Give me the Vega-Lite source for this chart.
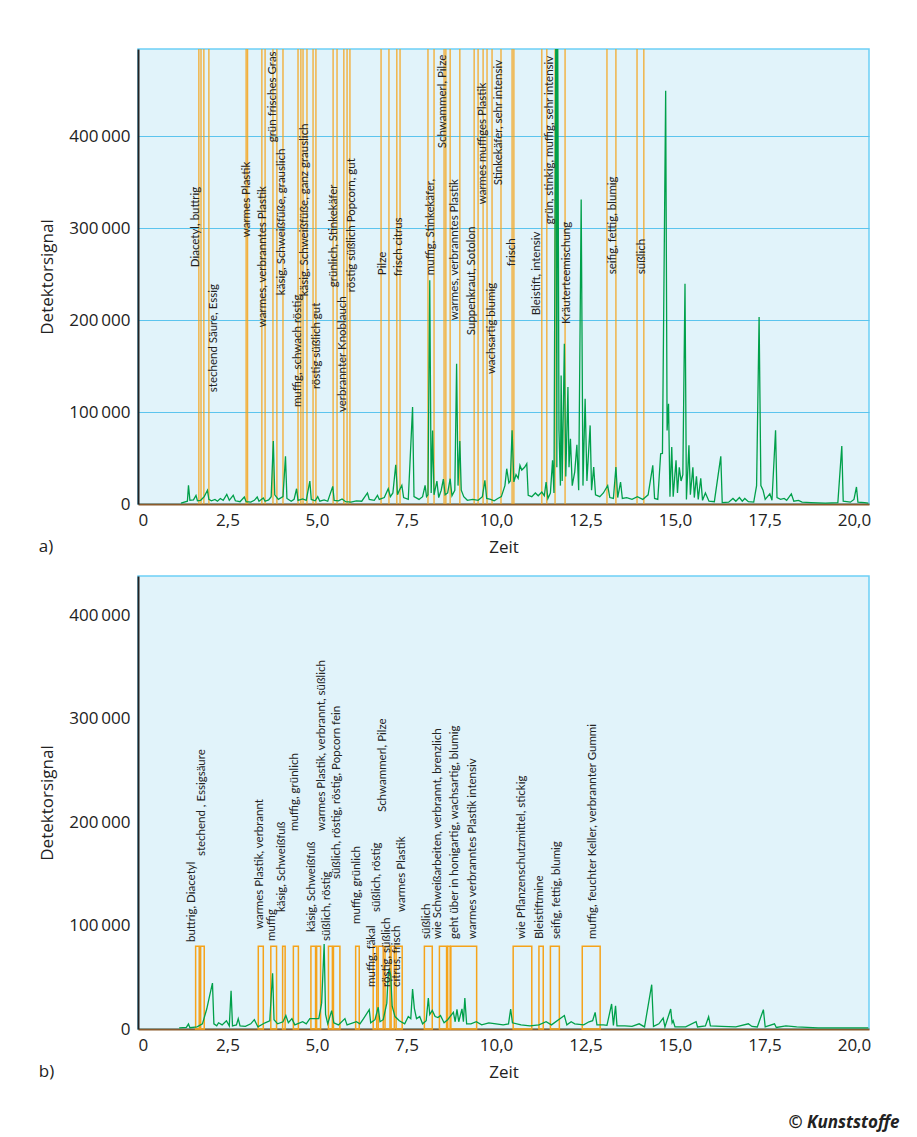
{
"$schema": "https://vega.github.io/schema/vega-lite/v6.json",
"background": "white",
"padding": {"left": 38, "top": 47, "right": 10, "bottom": 4},
"spacing": 19,
"config": {
  "view": {"stroke": "#6ccff6", "strokeWidth": 1.5, "fill": "#e1f3fa"},
  "font": "Open Sans",
  "axis": {"labelFont": "Open Sans", "titleFont": "Open Sans", "labelFontSize": 17, "titleFontSize": 17, "labelColor": "#222", "titleColor": "#222", "titleFontWeight": "normal", "ticks": false},
  "axisX": {"domainColor": "#8a5a2b", "domainWidth": 2, "grid": false, "labelPadding": 8, "titlePadding": 11},
  "axisY": {"domainColor": "#222", "domainWidth": 2, "gridColor": "#5bc4ee", "gridWidth": 1.2, "gridOpacity": 1, "labelPadding": 8, "titlePadding": 12},
  "title": {"font": "Open Sans", "fontWeight": "normal", "fontSize": 17, "color": "#222"}
},
"title": {"text": "© Kunststoffe", "orient": "bottom", "anchor": "end", "fontStyle": "italic", "fontWeight": "bold", "fontSize": 17, "color": "#222", "offset": 34, "dx": 28},
"datasets": {
  "a_trace": [
    {"t":1.2,"s":1000},{"t":1.38,"s":3000},{"t":1.41,"s":20300},{"t":1.45,"s":4000},{"t":1.55,"s":4500},{"t":1.62,"s":9400},{"t":1.66,"s":3500},{"t":1.75,"s":4000},{"t":1.85,"s":8000},{"t":1.94,"s":14900},{"t":1.98,"s":5000},{"t":2.05,"s":3500},{"t":2.15,"s":5000},{"t":2.22,"s":3000},{"t":2.3,"s":6000},{"t":2.38,"s":4000},{"t":2.48,"s":10500},{"t":2.55,"s":4000},{"t":2.66,"s":9400},{"t":2.72,"s":3500},{"t":2.85,"s":2500},{"t":2.97,"s":7600},{"t":3.02,"s":2500},{"t":3.15,"s":2000},{"t":3.25,"s":4000},{"t":3.33,"s":7600},{"t":3.38,"s":3000},{"t":3.5,"s":6500},{"t":3.55,"s":3000},{"t":3.65,"s":4500},{"t":3.72,"s":8000},{"t":3.78,"s":68500},{"t":3.82,"s":10000},{"t":3.92,"s":5000},{"t":4.05,"s":8000},{"t":4.12,"s":51800},{"t":4.16,"s":6000},{"t":4.28,"s":3000},{"t":4.36,"s":5000},{"t":4.43,"s":16600},{"t":4.47,"s":4000},{"t":4.6,"s":5500},{"t":4.7,"s":4000},{"t":4.8,"s":25000},{"t":4.84,"s":5000},{"t":4.95,"s":3500},{"t":5.02,"s":8000},{"t":5.08,"s":3000},{"t":5.2,"s":4500},{"t":5.3,"s":3000},{"t":5.44,"s":19200},{"t":5.48,"s":4000},{"t":5.6,"s":3500},{"t":5.7,"s":5500},{"t":5.8,"s":2500},{"t":5.95,"s":2000},{"t":6.1,"s":3500},{"t":6.25,"s":3000},{"t":6.41,"s":12000},{"t":6.46,"s":5000},{"t":6.6,"s":4000},{"t":6.69,"s":9400},{"t":6.74,"s":5000},{"t":6.88,"s":7000},{"t":6.99,"s":16600},{"t":7.05,"s":8000},{"t":7.12,"s":12000},{"t":7.2,"s":42700},{"t":7.25,"s":10000},{"t":7.3,"s":15000},{"t":7.37,"s":20300},{"t":7.42,"s":7000},{"t":7.55,"s":5000},{"t":7.67,"s":105400},{"t":7.71,"s":8000},{"t":7.85,"s":5000},{"t":7.95,"s":8000},{"t":8.02,"s":20300},{"t":8.06,"s":8000},{"t":8.1,"s":10000},{"t":8.15,"s":243500},{"t":8.19,"s":12000},{"t":8.23,"s":80000},{"t":8.27,"s":10000},{"t":8.35,"s":25000},{"t":8.4,"s":7000},{"t":8.47,"s":15000},{"t":8.53,"s":27000},{"t":8.58,"s":10000},{"t":8.65,"s":12000},{"t":8.72,"s":27500},{"t":8.77,"s":9000},{"t":8.85,"s":15000},{"t":8.9,"s":152500},{"t":8.94,"s":20000},{"t":8.99,"s":68500},{"t":9.03,"s":15000},{"t":9.1,"s":8000},{"t":9.2,"s":4000},{"t":9.35,"s":5000},{"t":9.5,"s":4000},{"t":9.62,"s":8000},{"t":9.69,"s":25800},{"t":9.74,"s":6000},{"t":9.85,"s":5000},{"t":9.95,"s":3500},{"t":10.05,"s":6000},{"t":10.15,"s":8000},{"t":10.25,"s":20000},{"t":10.3,"s":38400},{"t":10.36,"s":23000},{"t":10.4,"s":25000},{"t":10.45,"s":80100},{"t":10.5,"s":24000},{"t":10.56,"s":32000},{"t":10.62,"s":28000},{"t":10.67,"s":42000},{"t":10.72,"s":37000},{"t":10.8,"s":40000},{"t":10.86,"s":43800},{"t":10.9,"s":9400},{"t":11.0,"s":8000},{"t":11.1,"s":12000},{"t":11.18,"s":9000},{"t":11.28,"s":13000},{"t":11.35,"s":9000},{"t":11.4,"s":23900},{"t":11.45,"s":6000},{"t":11.52,"s":12000},{"t":11.58,"s":47500},{"t":11.62,"s":12000},{"t":11.68,"s":600000},{"t":11.7,"s":40000},{"t":11.72,"s":560000},{"t":11.76,"s":80000},{"t":11.8,"s":20000},{"t":11.82,"s":139900},{"t":11.85,"s":25000},{"t":11.91,"s":174300},{"t":11.95,"s":30000},{"t":12.01,"s":127200},{"t":12.04,"s":40000},{"t":12.08,"s":71000},{"t":12.13,"s":20000},{"t":12.2,"s":35000},{"t":12.26,"s":64500},{"t":12.31,"s":15000},{"t":12.38,"s":331200},{"t":12.43,"s":20000},{"t":12.49,"s":114500},{"t":12.54,"s":25000},{"t":12.63,"s":85500},{"t":12.67,"s":15000},{"t":12.73,"s":40200},{"t":12.78,"s":10000},{"t":12.9,"s":8000},{"t":13.0,"s":12000},{"t":13.12,"s":20000},{"t":13.18,"s":7000},{"t":13.28,"s":6000},{"t":13.35,"s":40200},{"t":13.4,"s":7000},{"t":13.48,"s":23900},{"t":13.53,"s":6000},{"t":13.65,"s":7000},{"t":13.8,"s":5000},{"t":13.95,"s":8000},{"t":14.1,"s":5000},{"t":14.25,"s":10000},{"t":14.38,"s":42000},{"t":14.43,"s":6000},{"t":14.52,"s":5000},{"t":14.6,"s":54700},{"t":14.65,"s":55000},{"t":14.74,"s":449700},{"t":14.78,"s":80000},{"t":14.82,"s":109000},{"t":14.86,"s":8000},{"t":14.91,"s":62000},{"t":14.95,"s":8000},{"t":15.03,"s":47500},{"t":15.07,"s":12000},{"t":15.12,"s":40000},{"t":15.17,"s":25000},{"t":15.22,"s":32000},{"t":15.28,"s":239500},{"t":15.32,"s":5000},{"t":15.39,"s":63800},{"t":15.43,"s":10000},{"t":15.5,"s":40000},{"t":15.54,"s":7000},{"t":15.6,"s":30000},{"t":15.65,"s":5000},{"t":15.72,"s":28000},{"t":15.77,"s":4000},{"t":15.85,"s":12000},{"t":15.95,"s":3000},{"t":16.1,"s":2500},{"t":16.28,"s":51800},{"t":16.32,"s":1500},{"t":16.5,"s":2000},{"t":16.62,"s":6000},{"t":16.7,"s":3000},{"t":16.8,"s":7000},{"t":16.88,"s":3000},{"t":16.95,"s":6000},{"t":17.05,"s":2500},{"t":17.2,"s":2000},{"t":17.28,"s":20000},{"t":17.35,"s":203300},{"t":17.4,"s":20000},{"t":17.46,"s":15000},{"t":17.52,"s":5000},{"t":17.65,"s":11000},{"t":17.71,"s":4000},{"t":17.81,"s":80100},{"t":17.85,"s":7000},{"t":17.95,"s":5000},{"t":18.05,"s":6000},{"t":18.12,"s":4000},{"t":18.25,"s":11000},{"t":18.32,"s":3000},{"t":18.45,"s":4000},{"t":18.55,"s":2000},{"t":18.8,"s":1500},{"t":19.2,"s":1000},{"t":19.55,"s":1500},{"t":19.66,"s":63000},{"t":19.7,"s":3000},{"t":19.9,"s":2000},{"t":20.0,"s":5000},{"t":20.07,"s":18500},{"t":20.11,"s":2000},{"t":20.3,"s":1500},{"t":20.4,"s":1000}
  ],
  "b_trace": [
    {"t":1.15,"s":1000},{"t":1.35,"s":1500},{"t":1.41,"s":4800},{"t":1.45,"s":1200},{"t":1.65,"s":2000},{"t":1.8,"s":5000},{"t":1.92,"s":19300},{"t":2.0,"s":32000},{"t":2.08,"s":44400},{"t":2.12,"s":5000},{"t":2.2,"s":3000},{"t":2.25,"s":6000},{"t":2.35,"s":4000},{"t":2.47,"s":8000},{"t":2.55,"s":3000},{"t":2.6,"s":37000},{"t":2.64,"s":3000},{"t":2.75,"s":4000},{"t":2.8,"s":10000},{"t":2.85,"s":3000},{"t":3.0,"s":2500},{"t":3.15,"s":5000},{"t":3.25,"s":9000},{"t":3.35,"s":2000},{"t":3.55,"s":6000},{"t":3.68,"s":8000},{"t":3.76,"s":53800},{"t":3.8,"s":9000},{"t":3.9,"s":5000},{"t":4.05,"s":7000},{"t":4.13,"s":13000},{"t":4.2,"s":6000},{"t":4.3,"s":10000},{"t":4.38,"s":4000},{"t":4.6,"s":7000},{"t":4.7,"s":5000},{"t":4.8,"s":10000},{"t":5.05,"s":10000},{"t":5.13,"s":25000},{"t":5.2,"s":82000},{"t":5.24,"s":14000},{"t":5.3,"s":5000},{"t":5.41,"s":17700},{"t":5.47,"s":6000},{"t":5.6,"s":4000},{"t":5.78,"s":10000},{"t":5.84,"s":4000},{"t":6.1,"s":7000},{"t":6.2,"s":5000},{"t":6.3,"s":10000},{"t":6.46,"s":18700},{"t":6.5,"s":6000},{"t":6.62,"s":9000},{"t":6.71,"s":21000},{"t":6.76,"s":7000},{"t":6.85,"s":9000},{"t":6.95,"s":25000},{"t":6.99,"s":53100},{"t":7.02,"s":58000},{"t":7.06,"s":52000},{"t":7.1,"s":22000},{"t":7.18,"s":12000},{"t":7.3,"s":8000},{"t":7.45,"s":5000},{"t":7.55,"s":12000},{"t":7.62,"s":10000},{"t":7.67,"s":38600},{"t":7.72,"s":20000},{"t":7.78,"s":10000},{"t":7.87,"s":12000},{"t":7.95,"s":5000},{"t":8.05,"s":8000},{"t":8.11,"s":30000},{"t":8.15,"s":14000},{"t":8.22,"s":18000},{"t":8.3,"s":12000},{"t":8.38,"s":11000},{"t":8.45,"s":13000},{"t":8.55,"s":6000},{"t":8.65,"s":9000},{"t":8.81,"s":16100},{"t":8.86,"s":7000},{"t":8.91,"s":19000},{"t":8.96,"s":7000},{"t":9.05,"s":19500},{"t":9.09,"s":7000},{"t":9.13,"s":30000},{"t":9.18,"s":5000},{"t":9.3,"s":5000},{"t":9.45,"s":7000},{"t":9.6,"s":4000},{"t":9.8,"s":6000},{"t":10.0,"s":5000},{"t":10.2,"s":4000},{"t":10.35,"s":5000},{"t":10.41,"s":19300},{"t":10.46,"s":6000},{"t":10.7,"s":4000},{"t":10.95,"s":3000},{"t":11.2,"s":4000},{"t":11.4,"s":7000},{"t":11.55,"s":4000},{"t":11.91,"s":13000},{"t":11.98,"s":4000},{"t":12.1,"s":7000},{"t":12.2,"s":5000},{"t":12.45,"s":4000},{"t":12.6,"s":7000},{"t":12.7,"s":8000},{"t":12.77,"s":16100},{"t":12.82,"s":4000},{"t":13.0,"s":4000},{"t":13.1,"s":3500},{"t":13.23,"s":24200},{"t":13.28,"s":3500},{"t":13.34,"s":22500},{"t":13.38,"s":3000},{"t":13.6,"s":3000},{"t":13.8,"s":2500},{"t":14.0,"s":5000},{"t":14.15,"s":2000},{"t":14.35,"s":42800},{"t":14.4,"s":2500},{"t":14.55,"s":5000},{"t":14.67,"s":10600},{"t":14.72,"s":2000},{"t":14.88,"s":19300},{"t":14.92,"s":6000},{"t":14.95,"s":8000},{"t":15.0,"s":2000},{"t":15.3,"s":2000},{"t":15.59,"s":7100},{"t":15.63,"s":2000},{"t":15.85,"s":3000},{"t":15.94,"s":11900},{"t":15.99,"s":3000},{"t":16.3,"s":2500},{"t":16.7,"s":2000},{"t":17.05,"s":5000},{"t":17.15,"s":2500},{"t":17.3,"s":2000},{"t":17.47,"s":18700},{"t":17.52,"s":2000},{"t":17.78,"s":5000},{"t":17.83,"s":1500},{"t":18.1,"s":3000},{"t":18.4,"s":2000},{"t":19.0,"s":1000},{"t":20.0,"s":1000},{"t":20.4,"s":1000}
  ],
  "a_lines": [
    {"t":1.70},{"t":1.76},{"t":1.84},{"t":1.98},{"t":3.02},{"t":3.06},{"t":3.46},{"t":3.55},{"t":3.77},{"t":3.88},{"t":4.05},{"t":4.47},{"t":4.55},{"t":4.61},{"t":4.72},{"t":4.89},{"t":4.97},{"t":5.45},{"t":5.56},{"t":5.75},{"t":5.84},{"t":5.92},{"t":6.79},{"t":7.01},{"t":7.23},{"t":7.32},{"t":8.10},{"t":8.27},{"t":8.55},{"t":8.60},{"t":8.72},{"t":8.99},{"t":9.39},{"t":9.50},{"t":9.64},{"t":9.75},{"t":9.89},{"t":10.14},{"t":10.45},{"t":10.50},{"t":11.28},{"t":11.42},{"t":11.65},{"t":11.93},{"t":13.10},{"t":13.35},{"t":13.94},{"t":14.13}
  ],
  "a_labels": [
    {"t":1.61,"s":257600,"label":"Diacetyl, buttrig"},
    {"t":2.12,"s":121700,"label":"stechend Säure, Essig"},
    {"t":3.04,"s":290200,"label":"warmes Plastik"},
    {"t":3.49,"s":192400,"label":"warmes, verbranntes Plastik"},
    {"t":3.77,"s":393500,"label":"grün frisches Gras"},
    {"t":4.02,"s":227200,"label":"käsig, Schweißfüße, grauslich"},
    {"t":4.47,"s":105400,"label":"muffig, schwach röstig"},
    {"t":4.66,"s":226000,"label":"käsig, Schweißfüße, ganz grauslich"},
    {"t":5.0,"s":125000,"label":"röstig süßlich gut"},
    {"t":5.47,"s":235900,"label":"grünlich, Stinkekäfer"},
    {"t":5.73,"s":100000,"label":"verbrannter Knoblauch"},
    {"t":5.98,"s":230400,"label":"röstig süßlich Popcorn, gut"},
    {"t":6.84,"s":248900,"label":"Pilze"},
    {"t":7.29,"s":247800,"label":"frisch citrus"},
    {"t":8.18,"s":248900,"label":"muffig, Stinkekäfer,"},
    {"t":8.52,"s":387000,"label":"Schwammerl, Pilze"},
    {"t":8.85,"s":200000,"label":"warmes, verbranntes Plastik"},
    {"t":9.33,"s":183700,"label":"Suppenkraut, Sotolon"},
    {"t":9.64,"s":326100,"label":"warmes muffiges Plastik"},
    {"t":9.89,"s":141300,"label":"wachsartig blumig"},
    {"t":10.08,"s":346800,"label":"Stinkekäfer, sehr intensiv"},
    {"t":10.45,"s":258700,"label":"frisch"},
    {"t":11.15,"s":205400,"label":"Bleistift, intensiv"},
    {"t":11.51,"s":304400,"label":"grün, stinkig, muffig, sehr intensiv"},
    {"t":11.98,"s":195700,"label":"Kräuterteemischung"},
    {"t":13.27,"s":250000,"label":"seifig, fettig, blumig"},
    {"t":14.08,"s":250000,"label":"süßlich"}
  ],
  "b_boxes": [
    {"t1":1.61,"t2":1.71},{"t1":1.75,"t2":1.85},{"t1":3.36,"t2":3.50},{"t1":3.71,"t2":3.87},{"t1":4.04,"t2":4.11},{"t1":4.34,"t2":4.48},{"t1":4.83,"t2":4.96},{"t1":4.99,"t2":5.10},{"t1":5.32,"t2":5.43},{"t1":5.46,"t2":5.64},{"t1":6.08,"t2":6.18},{"t1":6.57,"t2":6.67},{"t1":6.71,"t2":6.85},{"t1":6.90,"t2":7.04},{"t1":7.07,"t2":7.16},{"t1":7.21,"t2":7.38},{"t1":8.00,"t2":8.22},{"t1":8.42,"t2":8.62},{"t1":8.65,"t2":8.72},{"t1":8.74,"t2":9.46},{"t1":10.48,"t2":11.00},{"t1":11.20,"t2":11.32},{"t1":11.52,"t2":11.77},{"t1":12.41,"t2":12.91}
  ],
  "b_labels": [
    {"t":1.50,"s":84000,"label":"buttrig, Diacetyl"},
    {"t":1.78,"s":167100,"label":"stechend , Essigsäure"},
    {"t":3.41,"s":96600,"label":"warmes Plastik, verbrannt"},
    {"t":3.73,"s":85000,"label":"muffig"},
    {"t":4.01,"s":113000,"label":"käsig, Schweißfuß"},
    {"t":4.39,"s":191300,"label":"muffig, grünlich"},
    {"t":4.85,"s":93700,"label":"käsig, Schweißfuß"},
    {"t":5.13,"s":191300,"label":"warmes Plastik, verbrannt, süßlich"},
    {"t":5.27,"s":85000,"label":"süßlich, röstig"},
    {"t":5.55,"s":144900,"label":"süßlich, röstig, röstig, Popcorn fein"},
    {"t":6.11,"s":101400,"label":"muffig, grünlich"},
    {"t":6.53,"s":40600,"label":"muffig, fäkal"},
    {"t":6.67,"s":113000,"label":"süßlich, röstig"},
    {"t":6.85,"s":209600,"label":"Schwammerl, Pilze"},
    {"t":6.95,"s":40600,"label":"röstig, süßlich"},
    {"t":7.23,"s":40600,"label":"citrus, frisch"},
    {"t":7.37,"s":113000,"label":"warmes Plastik"},
    {"t":8.06,"s":87000,"label":"süßlich"},
    {"t":8.39,"s":87000,"label":"wie Schweißarbeiten, verbrannt, brenzlich"},
    {"t":8.85,"s":87000,"label":"geht über in honigartig, wachsartig, blumig"},
    {"t":9.35,"s":87000,"label":"warmes verbranntes Plastik intensiv"},
    {"t":10.72,"s":87000,"label":"wie Pflanzenschutzmittel, stickig"},
    {"t":11.23,"s":87000,"label":"Bleistiftmine"},
    {"t":11.70,"s":87000,"label":"seifig, fettig, blumig"},
    {"t":12.70,"s":87000,"label":"muffig, feuchter Keller, verbrannter Gummi"}
  ]
},
"vconcat": [
  {
    "width": 731, "height": 455,
    "title": {"text": "a)", "orient": "bottom", "anchor": "start", "offset": -16, "dx": 0},
    "layer": [
      {"data": {"name": "a_lines"}, "mark": {"type": "rule", "color": "#f5a31a", "strokeWidth": 1.4, "opacity": 0.85},
       "encoding": {"x": {"field": "t", "type": "quantitative", "scale": {"domain": [0, 20.42], "nice": false, "zero": false},
         "axis": {"title": "Zeit", "values": [0,2.5,5,7.5,10,12.5,15,17.5,20], "labelExpr": "datum.value == 0 ? '0' : replace(format(datum.value, '.1f'), '.', ',')"}}}},
      {"data": {"name": "a_trace"}, "mark": {"type": "line", "color": "#00a04a", "strokeWidth": 1.3, "clip": true},
       "encoding": {"x": {"field": "t", "type": "quantitative"},
         "y": {"field": "s", "type": "quantitative", "scale": {"domain": [0, 495000], "nice": false},
           "axis": {"title": "Detektorsignal", "values": [0,100000,200000,300000,400000], "labelExpr": "datum.value == 0 ? '0' : replace(format(datum.value, ','), ',', '\u2009')"}}}},
      {"data": {"name": "a_labels"}, "mark": {"type": "text", "angle": 270, "align": "left", "baseline": "middle", "font": "Lato", "fontSize": 11.5, "color": "#222"},
       "encoding": {"x": {"field": "t", "type": "quantitative"}, "y": {"field": "s", "type": "quantitative"}, "text": {"field": "label"}}}
    ]
  },
  {
    "width": 731, "height": 453,
    "title": {"text": "b)", "orient": "bottom", "anchor": "start", "offset": -16, "dx": 0},
    "layer": [
      {"data": {"name": "b_boxes"}, "mark": {"type": "rect", "fill": null, "fillOpacity": 0, "stroke": "#f5a31a", "strokeWidth": 1.5},
       "encoding": {"x": {"field": "t1", "type": "quantitative", "scale": {"domain": [0, 20.42], "nice": false, "zero": false},
         "axis": {"title": "Zeit", "values": [0,2.5,5,7.5,10,12.5,15,17.5,20], "labelExpr": "datum.value == 0 ? '0' : replace(format(datum.value, '.1f'), '.', ',')"}},
         "x2": {"field": "t2"},
         "y": {"datum": 0, "type": "quantitative", "scale": {"domain": [0, 437700], "nice": false},
           "axis": {"title": "Detektorsignal", "values": [0,100000,200000,300000,400000], "labelExpr": "datum.value == 0 ? '0' : replace(format(datum.value, ','), ',', '\u2009')"}},
         "y2": {"datum": 80000}}},
      {"data": {"name": "b_trace"}, "mark": {"type": "line", "color": "#00a04a", "strokeWidth": 1.3, "clip": true},
       "encoding": {"x": {"field": "t", "type": "quantitative"}, "y": {"field": "s", "type": "quantitative"}}},
      {"data": {"name": "b_labels"}, "mark": {"type": "text", "angle": 270, "align": "left", "baseline": "middle", "font": "Lato", "fontSize": 11.5, "color": "#222"},
       "encoding": {"x": {"field": "t", "type": "quantitative"}, "y": {"field": "s", "type": "quantitative"}, "text": {"field": "label"}}}
    ]
  }
]
}
